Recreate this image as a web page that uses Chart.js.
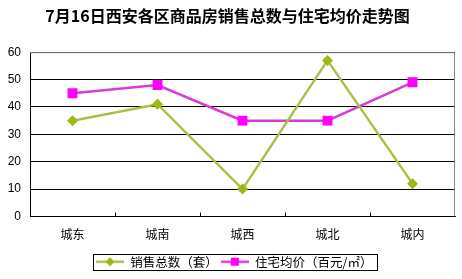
<!DOCTYPE html>
<html><head><meta charset="utf-8">
<script src="https://cdn.jsdelivr.net/npm/chart.js@4"></script>
<style>html,body{margin:0;padding:0;background:#fff}#w{width:462px;height:279px}</style>
</head><body><div id="w"><canvas id="c" width="462" height="279"></canvas></div>
<script>
const categories = ['城东','城南','城西','城北','城内'];
const salesTotal = [35, 41, 10, 57, 12];
const avgPrice = [45, 48, 35, 35, 49];
const seriesNames = ['销售总数（套）', '住宅均价（百元/㎡）'];
const titleText = '7月16日西安各区商品房销售总数与住宅均价走势图';

const FONT = '"Noto Sans CJK SC", "SimSun", sans-serif';
const salesLine = '#a9c040', salesMark = '#98bc10';
const priceLine = '#d63cd6', priceMark = '#ff00ff';

function legendIcon(lineColor, markColor, shape) {
  const c = document.createElement('canvas');
  c.width = 28; c.height = 10;
  const x = c.getContext('2d');
  x.strokeStyle = lineColor; x.lineWidth = 2.5;
  x.beginPath(); x.moveTo(0, 5); x.lineTo(28, 5); x.stroke();
  x.fillStyle = markColor;
  if (shape === 'diamond') {
    x.beginPath(); x.moveTo(14, 0.5); x.lineTo(18.5, 5); x.lineTo(14, 9.5); x.lineTo(9.5, 5); x.closePath(); x.fill();
  } else {
    x.fillRect(10, 1, 8, 8);
  }
  return c;
}

const frame = {
  id: 'frame',
  beforeDraw(chart) {
    const lg = chart.legend;
    if (lg && lg.legendHitBoxes && lg.legendHitBoxes.length) {
      const minL = Math.min(...lg.legendHitBoxes.map(h => h.left));
      const shift = 96 - minL;
      lg.left += shift; lg.right += shift;
      lg.legendHitBoxes.forEach(h => { h.left += shift; });
    }
  },
  afterDraw(chart) {
    const { ctx, chartArea: a } = chart;
    ctx.save();
    ctx.strokeStyle = '#888'; ctx.lineWidth = 1;
    ctx.beginPath();
    ctx.moveTo(a.left, a.top + 0.5); ctx.lineTo(a.right - 0.5, a.top + 0.5); ctx.lineTo(a.right - 0.5, a.bottom);
    ctx.stroke();
    ctx.strokeStyle = '#000';
    ctx.beginPath();
    const step = (a.right - a.left) / categories.length;
    for (let i = 1; i < categories.length; i++) {
      const px = Math.round(a.left + step * i) + 0.5;
      ctx.moveTo(px, a.bottom); ctx.lineTo(px, a.bottom - 4);
    }
    ctx.stroke();
    const lg = chart.legend;
    if (lg && lg.legendHitBoxes && lg.legendHitBoxes.length) {
      const hb = lg.legendHitBoxes;
      const l = Math.min(...hb.map(h => h.left)) - 3;
      const r = Math.max(...hb.map(h => h.left + h.width)) + 5;
      const cy = hb[0].top + hb[0].height / 2;
      ctx.strokeStyle = '#000';
      ctx.strokeRect(Math.round(l) + 0.5, Math.round(cy - 8) + 0.5, Math.round(r - l), 16);
    }
    ctx.restore();
  }
};

new Chart(document.getElementById('c'), {
  type: 'line',
  data: {
    labels: categories,
    datasets: [
      { label: seriesNames[0], data: salesTotal, borderColor: salesLine, backgroundColor: salesMark,
        borderWidth: 2.5, pointStyle: 'rectRot', pointRadius: 5.5, pointBackgroundColor: salesMark,
        pointBorderColor: salesMark, pointBorderWidth: 0, tension: 0 },
      { label: seriesNames[1], data: avgPrice, borderColor: priceLine, backgroundColor: priceMark,
        borderWidth: 2.5, pointStyle: 'rect', pointRadius: 7, pointBackgroundColor: priceMark,
        pointBorderColor: priceMark, pointBorderWidth: 0, tension: 0 }
    ]
  },
  options: {
    responsive: false, animation: false, devicePixelRatio: 1,
    layout: { padding: { left: 0, right: 7, top: 0, bottom: 1 } },
    plugins: {
      title: { display: true, text: titleText, color: '#000',
        font: { family: FONT, size: 16, weight: 'bold' }, padding: { top: 6, bottom: 27 } },
      legend: { position: 'bottom',
        labels: { color: '#000', font: { family: FONT, size: 12.5 }, usePointStyle: true, pointStyleWidth: 28, padding: 3, boxHeight: 10,
          generateLabels(chart) {
            return [
              { text: seriesNames[0], pointStyle: legendIcon(salesLine, salesMark, 'diamond'), fontColor: '#000', datasetIndex: 0, lineWidth: 0, strokeStyle: 'rgba(0,0,0,0)', fillStyle: 'rgba(0,0,0,0)' },
              { text: seriesNames[1], pointStyle: legendIcon(priceLine, priceMark, 'square'), fontColor: '#000', datasetIndex: 1, lineWidth: 0, strokeStyle: 'rgba(0,0,0,0)', fillStyle: 'rgba(0,0,0,0)' }
            ];
          } } },
      tooltip: { enabled: false }
    },
    scales: {
      x: { offset: true, grid: { display: false }, border: { color: '#000', width: 1 },
        ticks: { color: '#000', font: { family: FONT, size: 12 }, padding: 3 },
        afterFit(s) { s.height = 36; } },
      y: { min: 0, max: 60, ticks: { stepSize: 10, color: '#000', font: { family: 'Liberation Sans, Arial', size: 12 }, padding: 9 },
        grid: { color: '#000', lineWidth: 1, drawTicks: false }, border: { color: '#000', width: 1 },
        afterFit(s) { s.width = 30; } }
    }
  },
  plugins: [frame]
});
</script></body></html>
